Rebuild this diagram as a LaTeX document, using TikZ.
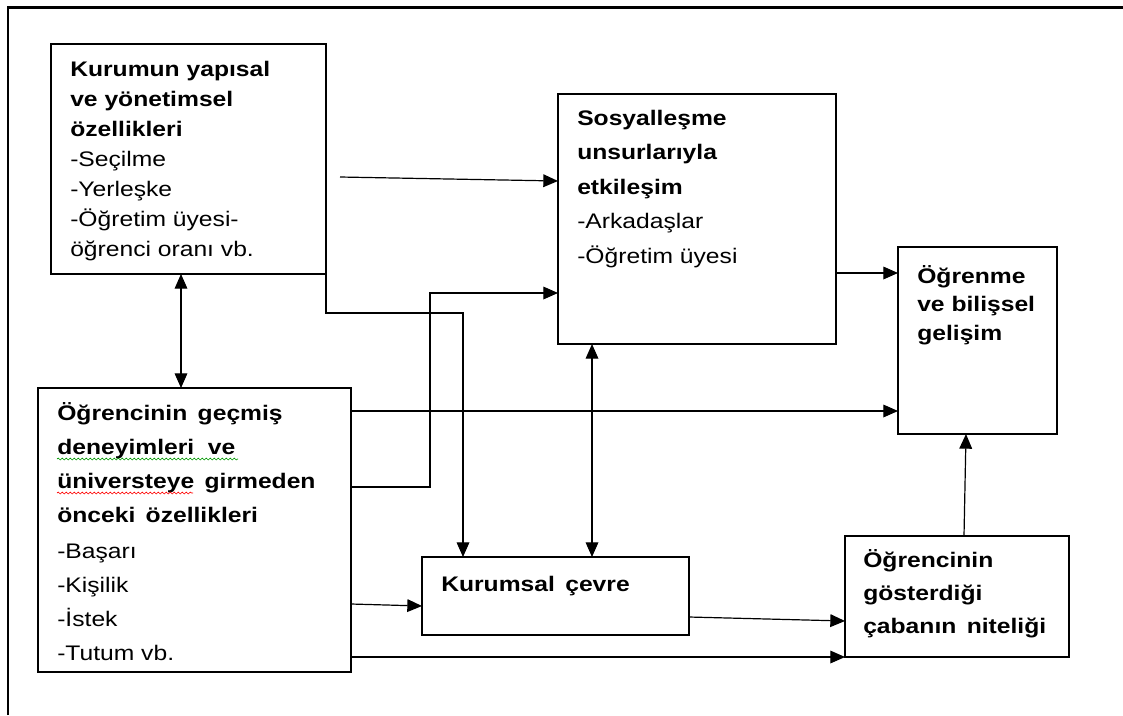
\documentclass[tikz,border=0pt]{standalone}
\usepackage{fontspec}
\setmainfont{Liberation Sans}[FakeStretch=1.17]
\usetikzlibrary{arrows.meta,decorations.pathmorphing}
\begin{document}
\begin{tikzpicture}[x=0.75pt,y=-0.75pt,
  box/.style={draw, line width=0.9pt, inner sep=0pt, outer sep=0pt, anchor=north west},
  txt/.style={anchor=north west, inner sep=0pt, align=left},
  arr/.style={line width=0.9pt, -{Triangle[length=11pt,width=9.5pt]}},
  biarr/.style={line width=0.9pt, {Triangle[length=11pt,width=9.5pt]}-{Triangle[length=11pt,width=9.5pt]}},
  framing/.style={line width=2.2pt},
  wavy/.style={decorate, decoration={snake, segment length=3pt, amplitude=0.7pt}, line width=0.5pt}]
\useasboundingbox (0,0) rectangle (1123,715);

% outer frame (left and top edges)
\draw[framing] (8,715) -- (8,7.5) -- (1123,7.5);

% boxes
\node[box, minimum width=275*0.75pt, minimum height=230*0.75pt] (A) at (51,44) {};
\node[box, minimum width=278*0.75pt, minimum height=250*0.75pt] (S) at (558,94) {};
\node[box, minimum width=159*0.75pt, minimum height=187*0.75pt] (L) at (898,247) {};
\node[box, minimum width=313*0.75pt, minimum height=284*0.75pt] (B) at (38,388) {};
\node[box, minimum width=267*0.75pt, minimum height=78*0.75pt] (K) at (422,557) {};
\node[box, minimum width=224*0.75pt, minimum height=121*0.75pt] (E) at (845,536) {};

% box texts
\node[txt, font=\fontsize{15.8}{22.5}\selectfont] (At) at (70,56)
  {\rule{0pt}{15pt}\textbf{Kurumun yapısal}\\ \textbf{ve yönetimsel}\\ \textbf{özellikleri}\\
   -Seçilme\\ -Yerleşke\\ -Öğretim üyesi-\\ öğrenci oranı vb.};
\node[txt, font=\fontsize{15.8}{25.9}\selectfont] (St) at (577,105)
  {\rule{0pt}{15pt}\textbf{Sosyalleşme}\\ \textbf{unsurlarıyla}\\ \textbf{etkileşim}\\
   -Arkadaşlar\\ -Öğretim üyesi};
\node[txt, font=\fontsize{15.8}{21.4}\selectfont] (Lt) at (917,263)
  {\rule{0pt}{15pt}\textbf{Öğrenme}\\ \textbf{ve bilişsel}\\ \textbf{gelişim}};
\node[txt, font=\fontsize{15.8}{25.5}\selectfont] (Bt) at (57,400)
  {\rule{0pt}{15pt}\textbf{Öğrencinin\ \,geçmiş}\\ \textbf{deneyimleri\ \ ve}\\
   \textbf{üniversteye\ \,girmeden}\\ \textbf{önceki\ \,özellikleri}\\[1.5pt]
   -Başarı\\ -Kişilik\\ -İstek\\ -Tutum vb.};
\node[txt, font=\fontsize{15.8}{22.5}\selectfont] (Kt) at (441,571)
  {\rule{0pt}{15pt}\textbf{Kurumsal\ \,çevre}};
\node[txt, font=\fontsize{15.8}{24.75}\selectfont] (Et) at (863,547)
  {\rule{0pt}{15pt}\textbf{Öğrencinin}\\ \textbf{gösterdiği}\\ \textbf{çabanın\ \,niteliği}};

% spelling marks under two words
\draw[wavy, green!60!black] (57,459) -- (238,459);
\draw[wavy, red] (57,493) -- (193,493);

% connectors
\draw[arr] ([xshift=10.5pt]A.east |- 0,177) -- (S.west |- 0,181);
\draw[arr] (A.south east) -- (A.east |- 0,313) -| ([xshift=30.75pt]K.north west);
\draw[arr] (B.east |- 0,487) -| (430,293) -- (S.west |- 0,293);
\draw[arr] (S.east |- 0,273) -- (L.west |- 0,273);
\draw[arr] (B.east |- 0,411) -- (L.west |- 0,411);
\draw[biarr] (A.south -| 181,0) -- (B.north -| 181,0);
\draw[biarr] (S.south -| 592,0) -- (K.north -| 592,0);
\draw[arr] (B.east |- 0,604) -- (K.west |- 0,606);
\draw[arr] (K.east |- 0,617) -- (E.west |- 0,621);
\draw[arr] (B.east |- 0,657) -- (E.west |- 0,657);
\draw[arr] (E.north -| 964,0) -- (L.south -| 966,0);
\end{tikzpicture}
\end{document}
